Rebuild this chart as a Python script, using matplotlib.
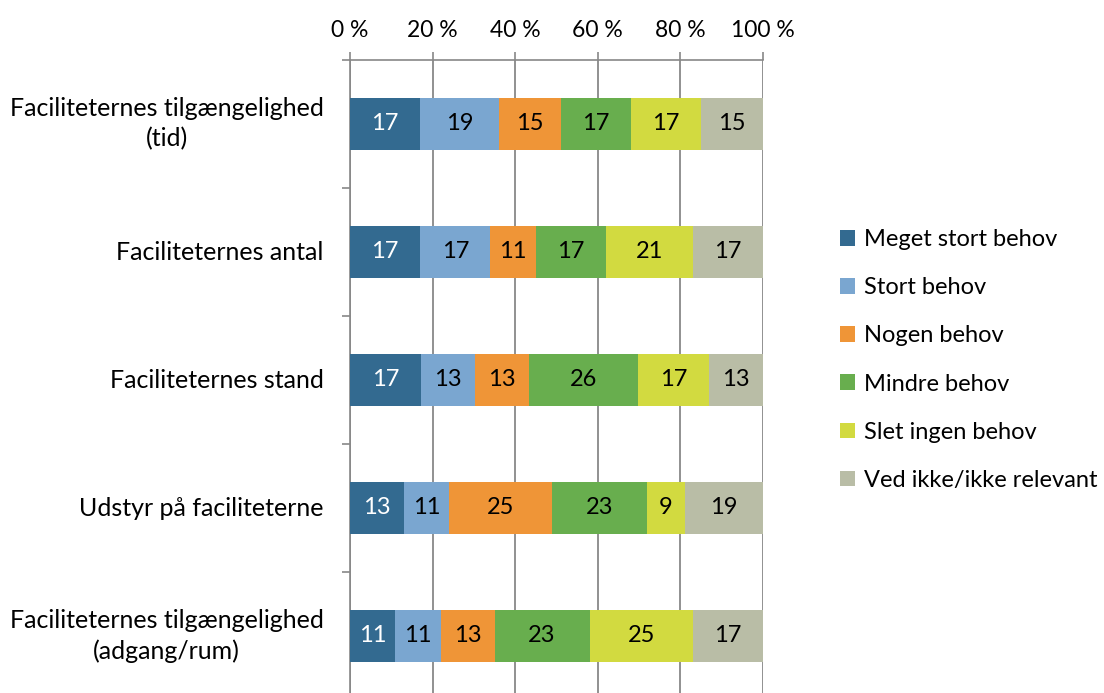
import numpy as np
import matplotlib.pyplot as plt
from matplotlib.patches import Patch

plt.rcParams['font.family'] = ['Lato', 'DejaVu Sans']

# data
categories = [
    "Faciliteternes tilgængelighed\n(tid)",
    "Faciliteternes antal",
    "Faciliteternes stand",
    "Udstyr på faciliteterne",
    "Faciliteternes tilgængelighed\n(adgang/rum)",
]
series_names = ["Meget stort behov", "Stort behov", "Nogen behov",
                "Mindre behov", "Slet ingen behov", "Ved ikke/ikke relevant"]
meget_stort = [17, 17, 17, 13, 11]
stort = [19, 17, 13, 11, 11]
nogen = [15, 11, 13, 25, 13]
mindre = [17, 17, 26, 23, 23]
slet_ingen = [17, 21, 17, 9, 25]
ved_ikke = [15, 17, 13, 19, 17]
tick_labels = ["0 %", "20 %", "40 %", "60 %", "80 %", "100 %"]

colors = ["#336A90", "#7AA6D0", "#EF9537", "#68AE4E", "#D2DA40", "#B9BDA6"]
text_colors = ["white", "black", "black", "black", "black", "black"]

values = np.array([meget_stort, stort, nogen, mindre, slet_ingen, ved_ikke], dtype=float)
# 100% stacked, like the spreadsheet chart
pct = values / values.sum(axis=0) * 100

fig = plt.figure(figsize=(11.04, 6.93), dpi=100)
ax = fig.add_axes([350 / 1104, -7 / 693, 413 / 1104, 640 / 693])

y = np.arange(len(categories))
left = np.zeros(len(categories))
for i in range(len(series_names)):
    ax.barh(y, pct[i], left=left, height=0.41, color=colors[i], zorder=3,
            label=series_names[i])
    for j in range(len(categories)):
        ax.text(left[j] + pct[i][j] / 2, y[j], "%d" % values[i][j],
                ha="center", va="center", fontsize=17, color=text_colors[i], zorder=4)
    left += pct[i]

ax.set_xlim(0, 100)
ax.set_ylim(len(categories) - 0.5, -0.5)

# axis at the top
ax.xaxis.tick_top()
ax.set_xticks(np.arange(0, 101, 20))
ax.set_xticklabels(tick_labels, fontsize=16.5)
ax.tick_params(axis="x", direction="out", length=6, width=1.2, color="#888888", pad=8)
ax.grid(axis="x", color="#888888", linewidth=1.3, zorder=0)

# category labels with boundary ticks on the left
ax.set_yticks(y)
ax.set_yticklabels(categories, fontsize=18, multialignment="center", linespacing=1.35,
                   va="center")
ax.tick_params(axis="y", which="major", length=0, pad=19)
ax.set_yticks(np.arange(-0.5, len(categories), 1), minor=True)
ax.tick_params(axis="y", which="minor", length=6, width=1.2, color="#888888")

for side in ["right", "bottom"]:
    ax.spines[side].set_visible(False)
for side in ["top", "left"]:
    ax.spines[side].set_color("#888888")
    ax.spines[side].set_linewidth(1.2)

handles = [Patch(facecolor=c, edgecolor="none") for c in colors]
fig.legend(handles, series_names, loc="center left", bbox_to_anchor=(840 / 1104, 1 - 360 / 693),
           frameon=False, fontsize=17, borderpad=0, borderaxespad=0,
           handlelength=0.65, handleheight=0.65,
           handletextpad=0.35, labelspacing=1.15)

fig.savefig("out.png", dpi=100)
